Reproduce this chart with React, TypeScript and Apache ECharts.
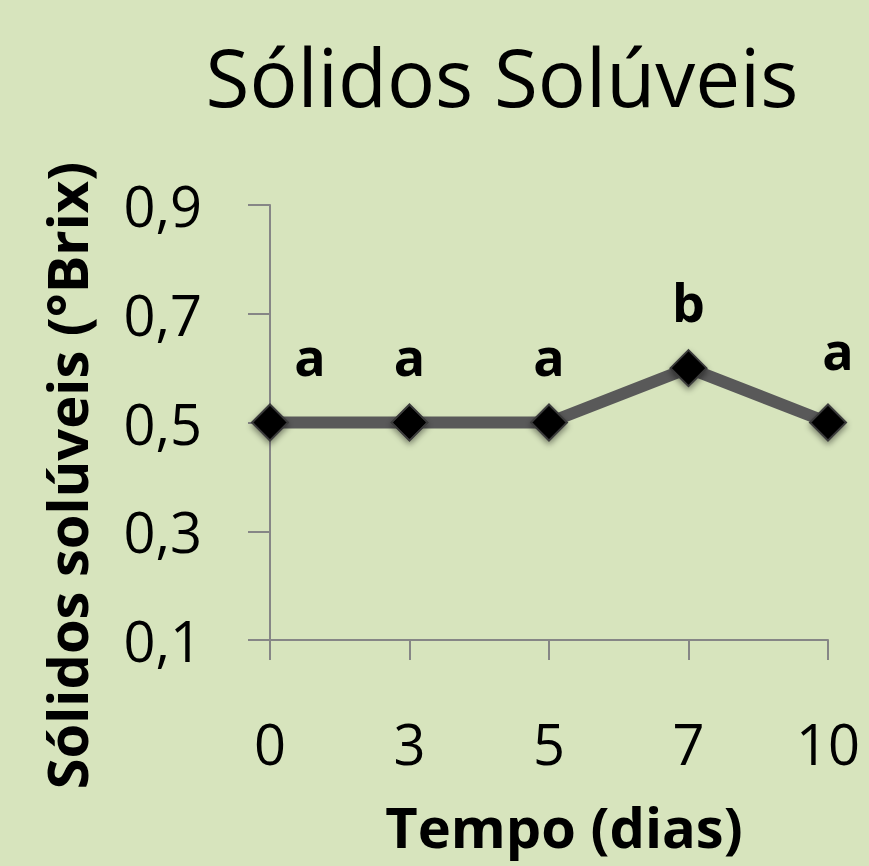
import React, { useEffect, useRef } from "react";
import * as echarts from "echarts";

const days = ["0", "3", "5", "7", "10"];
const brix = [0.5, 0.5, 0.5, 0.6, 0.5];
const letters = ["a", "a", "a", "b", "a"];
const yTicks = { min: 0.1, max: 0.9, interval: 0.2 };

const FONT = "'Open Sans', 'Noto Sans', sans-serif";

export default function App() {
  const ref = useRef<HTMLDivElement>(null);
  useEffect(() => {
    if (!ref.current) return;
    const chart = echarts.init(ref.current, undefined, { renderer: "svg" });
    const labelOffsets = [[40, 0], [0, 0], [0, 0], [0, 0], [10, -6]];
    chart.setOption({
      animation: false,
      backgroundColor: "#d7e4bd",
      title: {
        text: "Sólidos Solúveis",
        left: 497,
        top: 30,
        textAlign: "center",
        textStyle: { fontFamily: FONT, fontSize: 80, fontWeight: "normal", color: "#000" },
      },
      grid: { left: 270, right: 41, top: 205, bottom: 226, containLabel: false },
      xAxis: {
        type: "category",
        data: days,
        boundaryGap: false,
        name: "Tempo (dias)",
        nameLocation: "middle",
        nameGap: 158,
        nameTextStyle: {
          fontFamily: FONT,
          fontSize: 56,
          fontWeight: "bold",
          color: "#000",
          padding: [0, 0, 0, 30],
        },
        axisLine: { lineStyle: { color: "#868686", width: 2 } },
        axisTick: { show: true, length: 20, lineStyle: { color: "#868686", width: 2 } },
        axisLabel: { margin: 75, fontFamily: FONT, fontSize: 56, color: "#000" },
        splitLine: { show: false },
      },
      yAxis: {
        type: "value",
        min: yTicks.min,
        max: yTicks.max,
        interval: yTicks.interval,
        name: "Sólidos solúveis (°Brix)",
        nameLocation: "middle",
        nameGap: 176,
        nameTextStyle: {
          fontFamily: FONT,
          fontSize: 56,
          fontWeight: "bold",
          color: "#000",
          padding: [0, 106, 0, 0],
        },
        axisLine: { show: true, lineStyle: { color: "#868686", width: 2 } },
        axisTick: { show: true, length: 22, lineStyle: { color: "#868686", width: 2 } },
        axisLabel: {
          margin: 68,
          fontFamily: FONT,
          fontSize: 56,
          color: "#000",
          formatter: (v: number) => v.toFixed(1).replace(".", ","),
        },
        splitLine: { show: false },
      },
      series: [
        {
          type: "line",
          data: brix.map((v, i) => ({
            value: v,
            label: { offset: labelOffsets[i] },
          })),
          lineStyle: { color: "#595959", width: 12 },
          symbol: "diamond",
          symbolSize: 36,
          itemStyle: {
            color: "#000",
            borderColor: "#3a3a3a",
            borderWidth: 2,
            shadowBlur: 6,
            shadowColor: "rgba(0,0,0,0.45)",
            shadowOffsetY: 3,
          },
          label: {
            show: true,
            position: "top",
            distance: 22,
            formatter: (p: any) => letters[p.dataIndex],
            fontFamily: FONT,
            fontSize: 52,
            fontWeight: "bold",
            color: "#000",
          },
        },
      ],
    });
    return () => chart.dispose();
  }, []);
  return (
    <div
      ref={ref}
      style={{ position: "absolute", left: 0, top: 0, width: 869, height: 866 }}
    />
  );
}
